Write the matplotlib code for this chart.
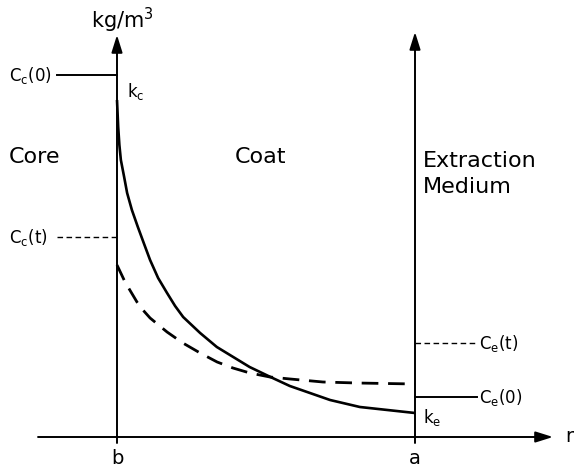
import matplotlib
matplotlib.use("Agg")
import matplotlib.pyplot as plt

plt.rcParams['font.family'] = ['DejaVu Sans']
plt.rcParams['mathtext.fontset'] = 'dejavusans'

# radial position (b = 0, a = 1) and concentration (arbitrary units)
solid_r = [0.0, 0.004, 0.008, 0.013, 0.024, 0.034, 0.050, 0.070, 0.091,
           0.111, 0.138, 0.168, 0.195, 0.222, 0.279, 0.335, 0.39, 0.445,
           0.515, 0.58, 0.715, 0.815, 1.0]
solid_c = [3.37, 3.10, 2.92, 2.77, 2.60, 2.44, 2.27, 2.10, 1.93,
           1.77, 1.59, 1.44, 1.31, 1.20, 1.04, 0.90, 0.80, 0.70,
           0.60, 0.51, 0.37, 0.30, 0.24]
dashed_r = [0.0, 0.027, 0.067, 0.087, 0.111, 0.168, 0.221, 0.279, 0.336,
            0.389, 0.446, 0.513, 0.581, 0.691, 0.805, 1.0]
dashed_c = [1.72, 1.55, 1.35, 1.27, 1.19, 1.05, 0.94, 0.84, 0.75,
            0.69, 0.64, 0.60, 0.58, 0.55, 0.54, 0.53]
cc0 = 3.62
cct = 2.00
ce0 = 0.40
cet = 0.94
regions = ["Core", "Coat", "Extraction\nMedium"]

fig = plt.figure(figsize=(5.75, 4.7), dpi=100)
ax = fig.add_axes([0, 0, 1, 1])
ax.set_xlim(-0.3926, 1.5369)
ax.set_ylim(-0.33, 4.37)
ax.axis('off')

k = 'black'
arrow = dict(arrowstyle='-|>,head_length=0.7,head_width=0.22', lw=1.4,
             color=k, mutation_scale=15, shrinkA=0, shrinkB=0)
# axes
ax.annotate('', xy=(1.463, 0), xytext=(-0.265, 0), arrowprops=arrow)
ax.annotate('', xy=(0, 4.02), xytext=(0, -0.06), arrowprops=arrow)
ax.annotate('', xy=(1, 4.05), xytext=(1, -0.06), arrowprops=arrow)

# profiles
ax.plot(solid_r, solid_c, color=k, lw=1.9, solid_capstyle='butt',
        solid_joinstyle='round')
ax.plot(dashed_r, dashed_c, color=k, lw=2.0, dashes=(6, 3.5))

# reference levels
ax.plot([-0.201, 0], [cc0, cc0], color=k, lw=1.4)
ax.plot([-0.201, 0], [cct, cct], color=k, lw=1.0, dashes=(4, 2.5))
ax.plot([1, 1.208], [ce0, ce0], color=k, lw=1.4)
ax.plot([1, 1.208], [cet, cet], color=k, lw=1.0, dashes=(4, 2.5))

fs_big = 16
ax.text(-0.362, 2.80, regions[0], fontsize=fs_big, ha='left', va='center')
ax.text(0.396, 2.80, regions[1], fontsize=fs_big, ha='left', va='center')
ax.text(1.027, 2.63, regions[2], fontsize=fs_big, ha='left', va='center',
        linespacing=1.4)

fs = 12
ax.text(-0.362, cc0, r'C$_\mathregular{c}$(0)', fontsize=fs, ha='left', va='center')
ax.text(-0.362, cct, r'C$_\mathregular{c}$(t)', fontsize=fs, ha='left', va='center')
ax.text(1.215, cet, r'C$_\mathregular{e}$(t)', fontsize=fs, ha='left', va='center')
ax.text(1.215, ce0, r'C$_\mathregular{e}$(0)', fontsize=fs, ha='left', va='center')
ax.text(0.034, 3.45, r'k$_\mathregular{c}$', fontsize=fs, ha='left', va='center')
ax.text(1.027, 0.20, r'k$_\mathregular{e}$', fontsize=fs, ha='left', va='center')
ax.text(0.017, 4.17, r'kg/m$^\mathregular{3}$', fontsize=15, ha='center', va='center')
ax.text(1.503, 0.0, 'r', fontsize=14, ha='left', va='center')
ax.text(0, -0.21, 'b', fontsize=14, ha='center', va='center')
ax.text(1, -0.21, 'a', fontsize=14, ha='center', va='center')

fig.savefig('out.png', dpi=100)
